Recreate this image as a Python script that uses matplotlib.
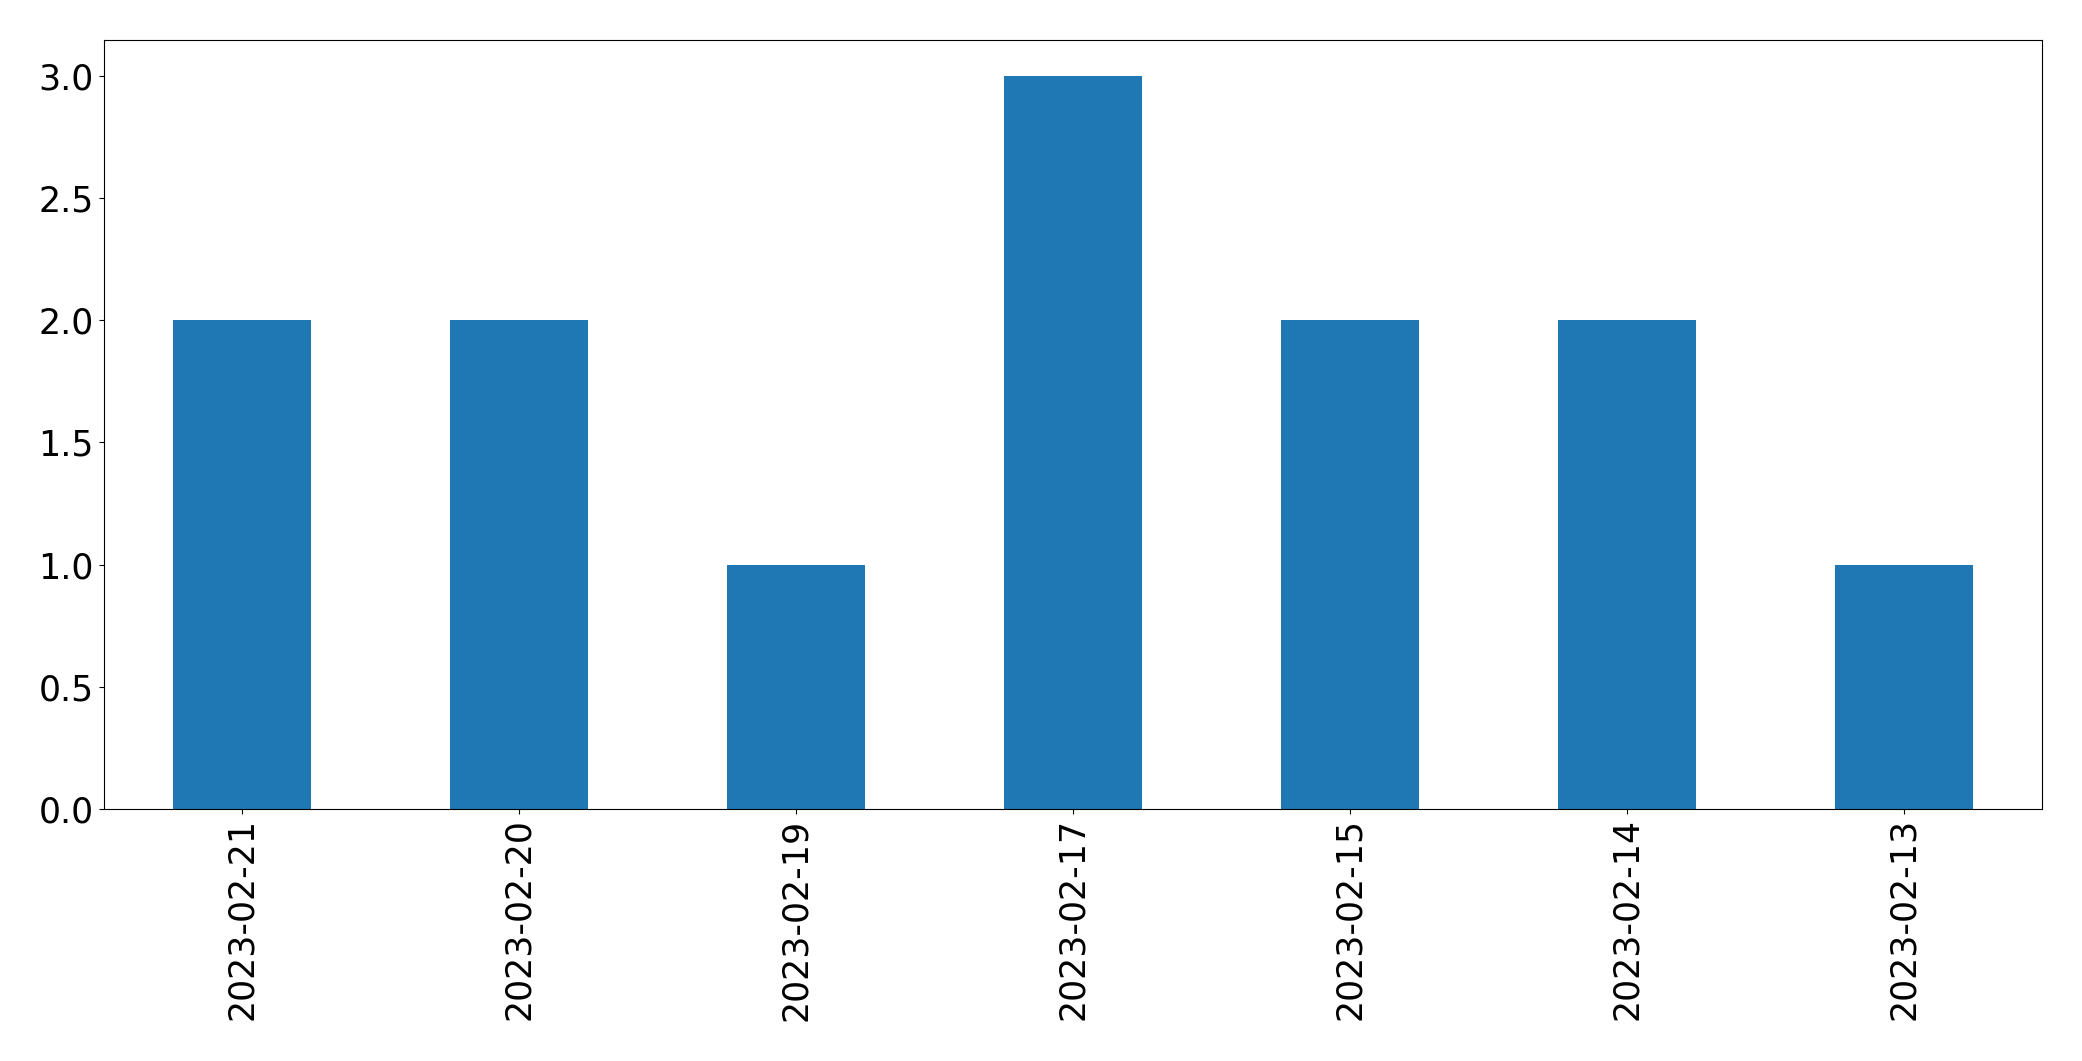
import matplotlib
matplotlib.use("Agg")
import matplotlib.pyplot as plt
import pandas as pd

dates = ["2023-02-21", "2023-02-20", "2023-02-19", "2023-02-17",
         "2023-02-15", "2023-02-14", "2023-02-13"]
counts = [2, 2, 1, 3, 2, 2, 1]

s = pd.Series(counts, index=dates)

fig, ax = plt.subplots(figsize=(20.82, 10.61), dpi=100)
s.plot(kind="bar", ax=ax, color="#1f77b4")
ax.tick_params(axis="both", labelsize=25)
ax.set_xlabel("")
fig.subplots_adjust(left=0.0498, right=0.981, top=0.9625, bottom=0.2379)
fig.savefig("out.png", dpi=100)
